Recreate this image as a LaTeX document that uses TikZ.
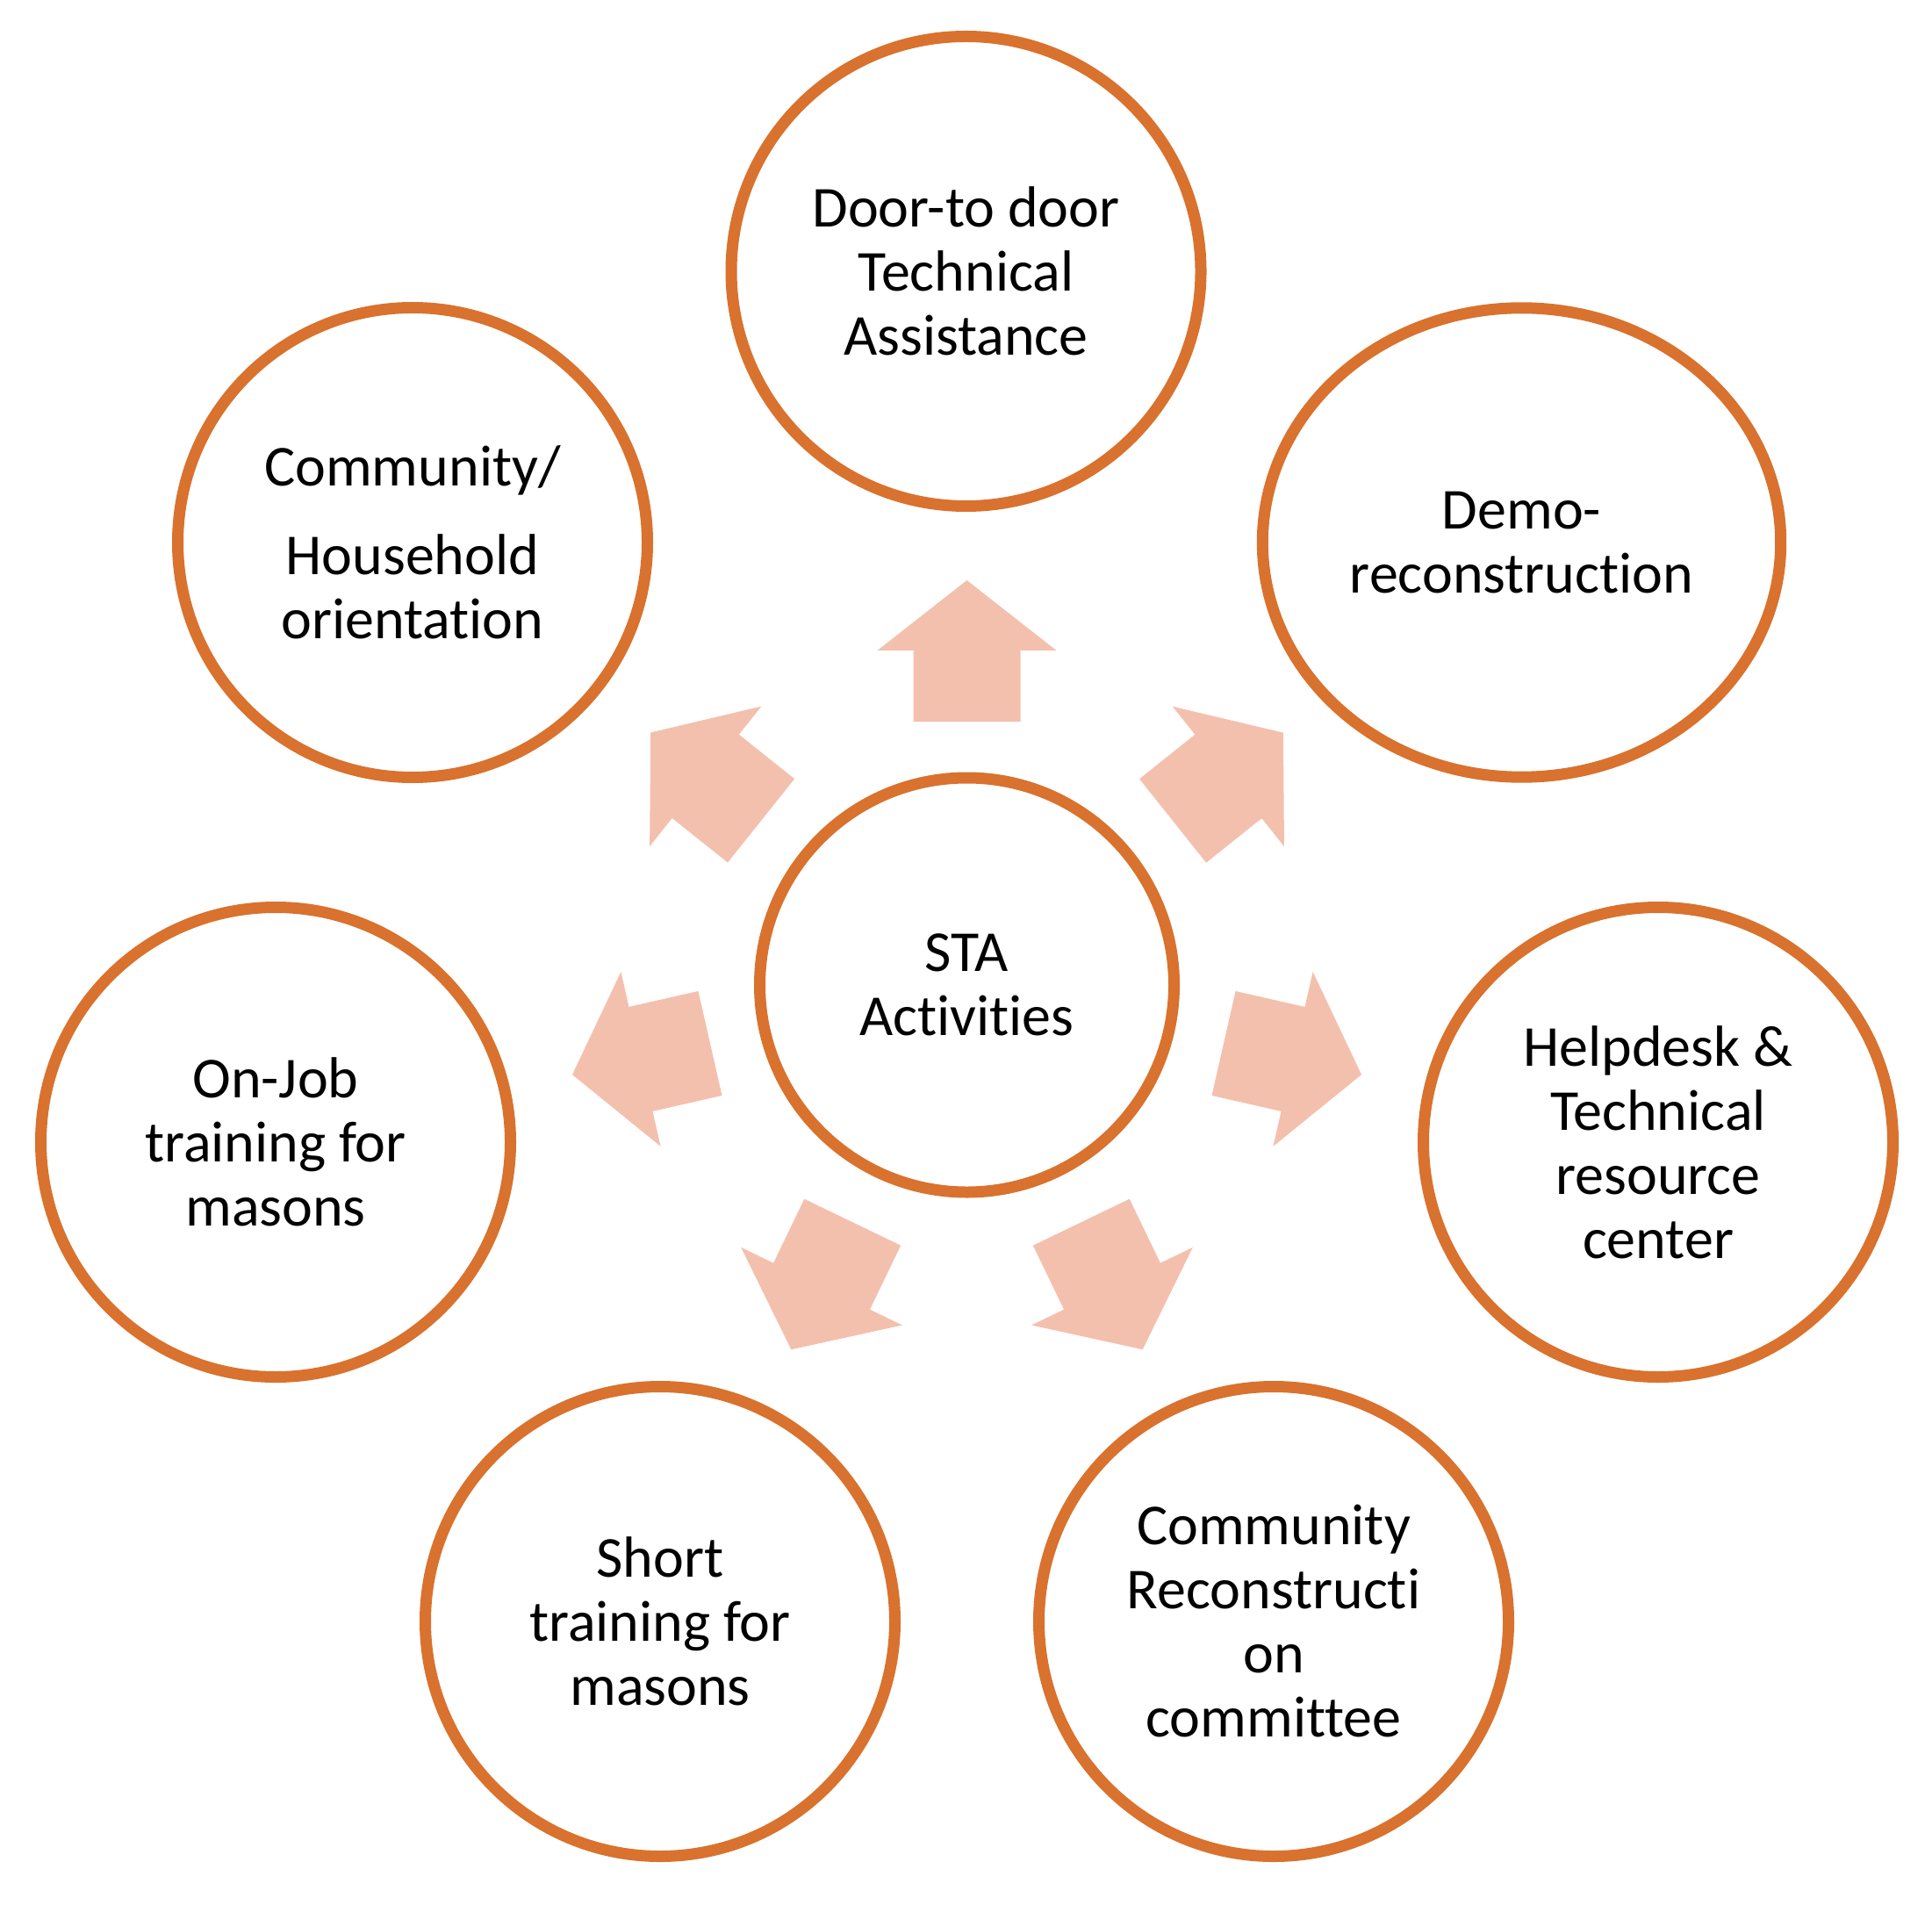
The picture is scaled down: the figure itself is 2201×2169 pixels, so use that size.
\documentclass[tikz,border=0pt]{standalone}
\usepackage{fontspec}
\setmainfont{Carlito}[Ligatures=NoCommon]
\usetikzlibrary{shapes.geometric}
\definecolor{ring}{RGB}{216,114,46}
\definecolor{blk}{RGB}{244,192,174}
\begin{document}
\begin{tikzpicture}[x=0.25pt,y=-0.25pt,
  lbl/.style={align=center,inner sep=0pt,font=\fontsize{16.5}{18.25}\selectfont},
  circ/.style={lbl,circle,draw=ring,line width=3.25pt,minimum size=133.75pt},
  oval/.style={lbl,ellipse,draw=ring,line width=3.25pt,minimum width=147.6pt,minimum height=133.6pt},
  hub/.style={lbl,circle,draw=ring,line width=3.25pt,minimum size=118pt},
  blockarrow/.style={fill=blk}]
\useasboundingbox (0,0) rectangle (2201,2169);
\node[hub]  (sta)   at (1101.5,1122) {STA\\Activities};
\node[circ] (door)  at (1100.5,309)  {Door-to door\\Technical\\Assistance};
\node[oval] (demo)  at (1733.5,618)  {Demo-\\reconstruction};
\node[circ] (house) at (470,618)     {Community/\\[7pt]Household\\orientation};
\node[circ] (help)  at (1889,1301)   {Helpdesk \&\\Technical\\resource\\center};
\node[circ] (onjob) at (314,1301)    {On-Job\\training for\\masons};
\node[circ] (crc)   at (1451,1847)   {Community\\Reconstructi\\on\\committee};
\node[circ] (short) at (752,1847)    {Short\\training for\\masons};
\foreach \a in {90,38.57,141.4,-12.8,192.8,-64.26,-115.74}
  \fill[blockarrow, shift={(sta.center)}, rotate=\a]
    (75pt,-15.25pt) -- (95.25pt,-15.25pt) -- (95.25pt,-25.5pt) -- (115.25pt,0pt)
    -- (95.25pt,25.5pt) -- (95.25pt,15.25pt) -- (75pt,15.25pt) -- cycle;
\end{tikzpicture}
\end{document}
